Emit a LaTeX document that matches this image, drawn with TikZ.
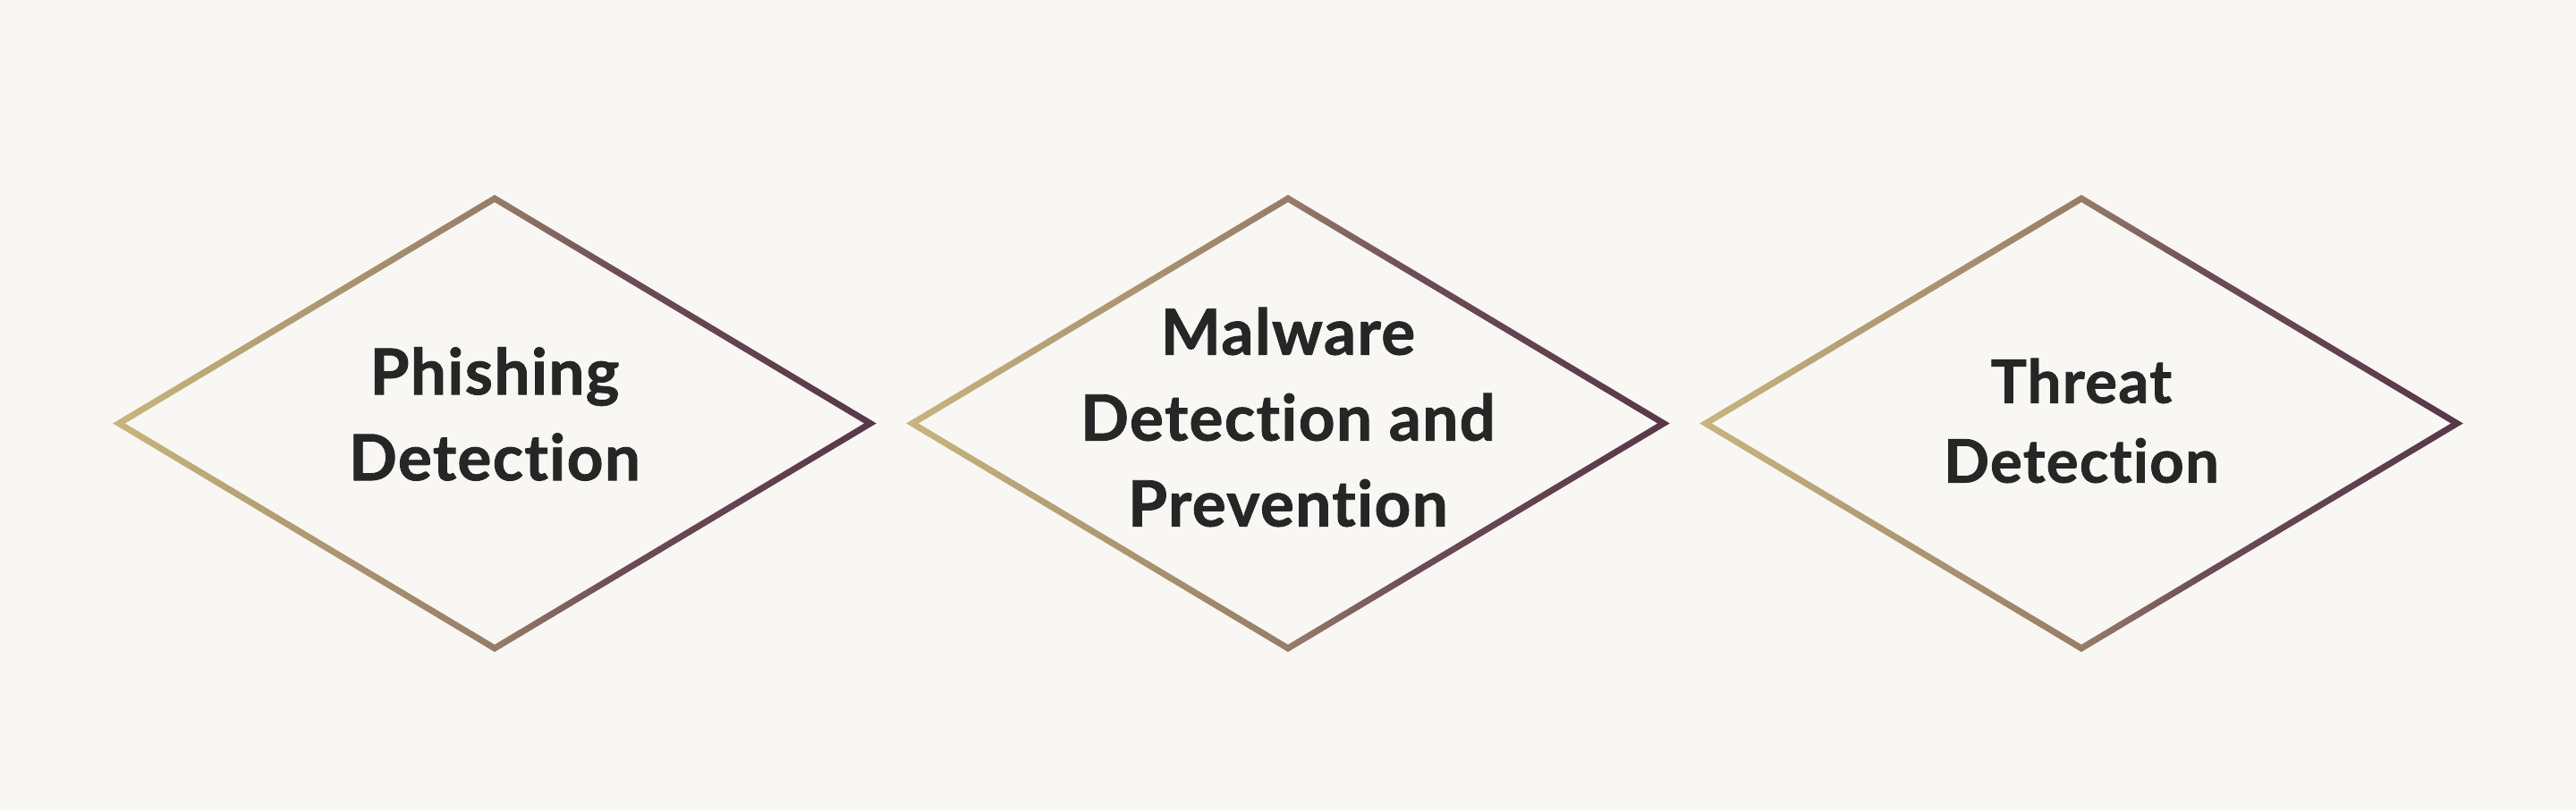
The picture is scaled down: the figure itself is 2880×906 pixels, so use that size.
\documentclass[tikz,border=0pt]{standalone}
\usepackage{fontspec}
\setmainfont{Lato}[LetterSpace=2, Ligatures={NoCommon}, BoldFeatures={FakeBold=1.2}]

\definecolor{paper}{HTML}{F8F7F3}
\definecolor{ink}{HTML}{262626}
\definecolor{rimtan}{HTML}{C8B57E}
\definecolor{rimbrown}{HTML}{977D67}
\definecolor{rimmauve}{HTML}{6C4C58}
\definecolor{rimplum}{HTML}{583848}

\pgfdeclarehorizontalshading{rimfade}{100bp}{color(0bp)=(rimtan); color(25bp)=(rimtan); color(50bp)=(rimbrown); color(58bp)=(rimmauve); color(75bp)=(rimplum); color(100bp)=(rimplum)}

\tikzset{
  rimline/.style={shading=rimfade, even odd rule},
  bigtext/.style={font=\bfseries\fontsize{71}{96}\selectfont, text=ink, align=center, inner sep=0pt},
  smalltext/.style={font=\bfseries\fontsize{67}{89}\selectfont, text=ink, align=center, inner sep=0pt}
}

% diamond outline round a centre
\newcommand{\rimdiamond}[1]{%
  \shade[rimline, shift={(#1)}]
    (-426.8,0) -- (0,-255.6) -- (426.8,0) -- (0,255.6) -- cycle
    (-413.2,0) -- (0,-247.4) -- (413.2,0) -- (0,247.4) -- cycle;}

\begin{document}
\begin{tikzpicture}[x=1pt,y=-1pt]

% background
\fill[paper] (0,0) rectangle (2880,906);
\useasboundingbox (0,0) rectangle (2880,906);

% centres
\coordinate (phishc) at (553,473.5);
\coordinate (malc) at (1440,473.5);
\coordinate (threatc) at (2327,473.5);

% outlines
\rimdiamond{phishc}
\rimdiamond{malc}
\rimdiamond{threatc}

% labels
\node[bigtext] (phish) at (553,463) {Phishing\\Detection};
\node[bigtext] (mal) at (1440,466.5) {Malware\\Detection and\\Prevention};
\node[smalltext] (threat) at (2327,470.5) {Threat\\Detection};

\end{tikzpicture}
\end{document}
